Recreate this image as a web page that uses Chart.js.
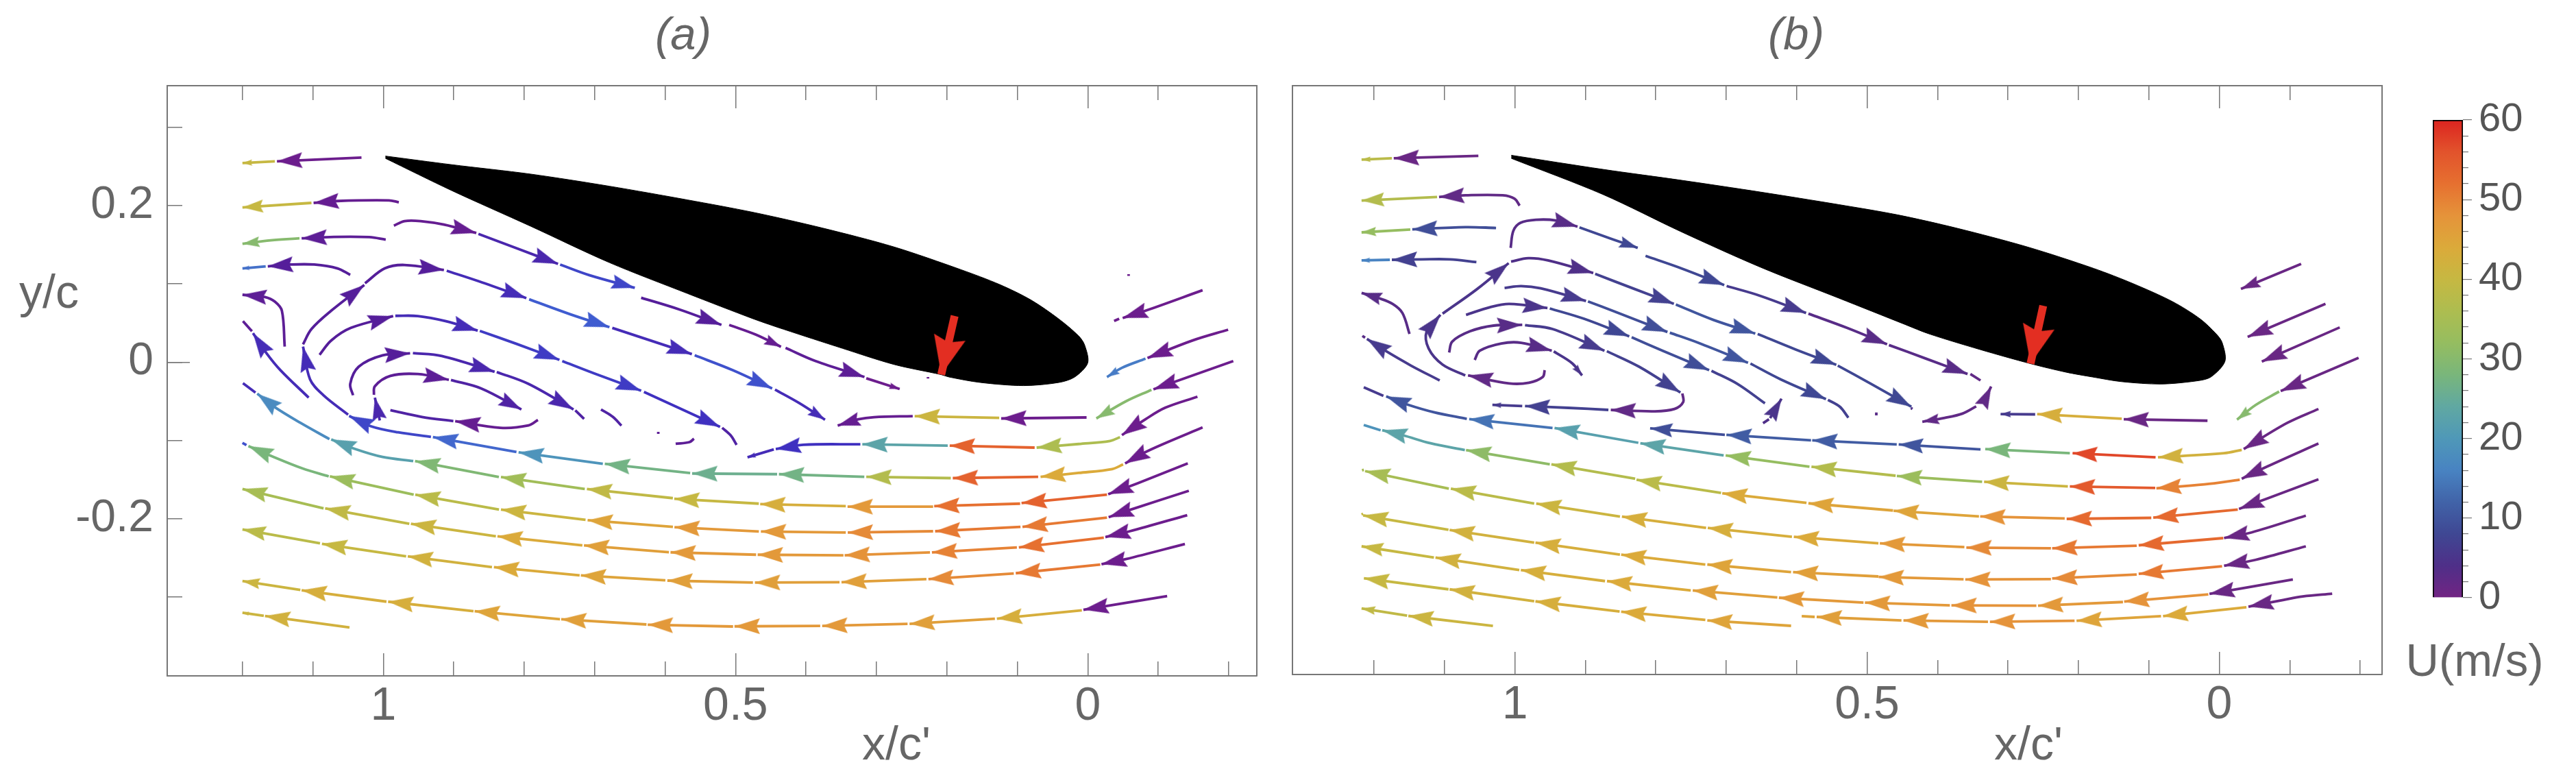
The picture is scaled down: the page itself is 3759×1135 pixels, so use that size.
<!DOCTYPE html>
<html>
<head>
<meta charset="utf-8">
<title>Streamlines</title>
<script src="https://cdn.jsdelivr.net/npm/chart.js@4"></script>
<style>
html, body { margin: 0; padding: 0; background: #fff; }
body { position: relative; width: 3759px; height: 1135px; overflow: hidden; }
canvas { position: absolute; top: 0; }
</style>
</head>
<body>
<canvas id="panelA" style="left:0;width:1860px;height:1135px"></canvas>
<canvas id="panelB" style="left:1860px;width:1640px;height:1135px"></canvas>
<canvas id="colorBar" style="left:3500px;width:259px;height:1135px"></canvas>
<script>
// axis ticks
const xMajorTicks = [1, 0.5, 0];
const xMinorTicksTop = [1.2, 1.1, 0.9, 0.8, 0.7, 0.6, 0.4, 0.3, 0.2, 0.1, -0.1];
const xMinorTicksBottom = [1.2, 1.1, 0.9, 0.8, 0.7, 0.6, 0.4, 0.3, 0.2, 0.1, -0.1, -0.2];
const yLabelTicks = [0.2, 0, -0.2];
const yMinorTicks = [0.3, 0.1, -0.1, -0.3];
const barMajorTicks = [0, 10, 20, 30, 40, 50, 60];
const barMinorTicks = [2, 4, 6, 8, 12, 14, 16, 18, 22, 24, 26, 28, 32, 34, 36, 38, 42, 44, 46, 48, 52, 54, 56, 58];

// colour legend, U(m/s)
const speedStops = [0, 4, 8, 12, 16, 20, 24, 28, 32, 36, 40, 44, 48, 52, 56, 60];
const speedColorsB = ['#722483', '#4f2f88', '#3f4793', '#4163a8', '#4883c2', '#4f98b8', '#60a8a2', '#79b67b', '#95bd60', '#adbd50', '#c6b842', '#dbaa3a', '#e5933a', '#e67030', '#e2532c', '#dc2420'];
const speedColorsA = ['#741c88', '#551e9a', '#3f30c0', '#3f5cd0', '#4a86c2', '#4f98b8', '#60a8a2', '#79b67b', '#95bd60', '#adbd50', '#c6b842', '#dbaa3a', '#e5933a', '#e67030', '#e2532c', '#dc2420'];

// airfoils, [x/c', y/c] round the outline
const airfoilA = [[0.997,0.263],[0.903,0.252],[0.791,0.24],[0.679,0.2245],[0.568,0.207],[0.474,0.191],[0.376,0.171],[0.275,0.147],[0.18,0.118],[0.125,0.099],[0.08,0.079],[0.041,0.055],[0.013,0.0335],[0.0045,0.022],[0,-0.001],[0.0185,-0.019],[0.041,-0.026],[0.091,-0.03],[0.1525,-0.026],[0.197,-0.019],[0.208,-0.016],[0.275,-0.003],[0.348,0.0175],[0.432,0.042],[0.474,0.055],[0.568,0.0875],[0.679,0.127],[0.791,0.1735],[0.903,0.219],[0.997,0.26]];
const airfoilB = [[1.005,0.264],[0.875,0.246],[0.763,0.232],[0.651,0.217],[0.54,0.201],[0.457,0.188],[0.373,0.171],[0.2725,0.147],[0.178,0.1195],[0.122,0.1],[0.066,0.077],[0.027,0.055],[0.0045,0.036],[-0.004,0.025],[-0.008,0.001],[0.012,-0.019],[0.032,-0.024],[0.083,-0.028],[0.1385,-0.025],[0.18,-0.019],[0.217,-0.013],[0.268,-0.002],[0.3395,0.016],[0.412,0.036],[0.446,0.048],[0.54,0.0816],[0.651,0.121],[0.763,0.166],[0.875,0.214],[1.005,0.26]];

// red markers, tail then tip
const redArrowA = [0.189,0.059, 0.208,-0.016];
const redArrowB = [0.25,0.072, 0.268,-0.002];

// panel (a) streamlines: each row is [U, x,y, x,y, ...] from tail to tip
const aTop1 = [[1, 1.031,0.261, 1.151,0.2563],[40, 1.154,0.2563, 1.2,0.254]];
const aTop2 = [[2, 0.978,0.204, 0.992,0.2064, 1.065,0.2056, 1.099,0.2032],[40, 1.102,0.2032, 1.2,0.1974]];
const aTop3 = [[3, 0.9966,0.1563, 1.02,0.1595, 1.07,0.1598, 1.116,0.158],[30, 1.119,0.158, 1.16,0.1554, 1.2,0.151]];
const aTop4 = [[4, 1.047,0.1114, 1.065,0.1196, 1.098,0.1245, 1.132,0.1245, 1.164,0.1222],[14, 1.167,0.1222, 1.2,0.1195]];
const aTop5 = [[3, 1.14,0.0198, 1.144,0.0656, 1.154,0.0773, 1.168,0.0831, 1.2,0.086]];
const aLeft6 = [[7, 1.106,-0.0453, 1.146,-0.0103, 1.166,0.0116, 1.185,0.037]];
const aRise = [
  [7, 1.05,-0.0671, 1.085,-0.0423, 1.104,-0.022, 1.114,0.0198],
  [4, 1.114,0.0227, 1.102,0.0422, 1.074,0.0656, 1.027,0.0985],
  [4, 1.026,0.1006, 0.998,0.1196, 0.97,0.124, 0.914,0.1175],
  [7, 0.91,0.1166, 0.864,0.103, 0.797,0.0816],
  [12, 0.793,0.0802, 0.735,0.0612, 0.679,0.0446],
  [7, 0.675,0.0437, 0.562,0.0102],
  [11, 0.558,0.0087, 0.504,-0.0103, 0.448,-0.0336],
  [7, 0.444,-0.0351, 0.409,-0.0526, 0.373,-0.0735]
];
const aFoilSide = [
  [2, 0.985,0.1741, 0.97,0.18, 0.947,0.18, 0.914,0.1755, 0.868,0.1648],
  [6, 0.865,0.1636, 0.808,0.1443, 0.752,0.1254],
  [10, 0.749,0.1245, 0.707,0.1108, 0.643,0.0948],
  [4, 0.634,0.0822, 0.579,0.067, 0.52,0.0475],
  [2, 0.509,0.0475, 0.471,0.035, 0.4355,0.0195],
  [3, 0.429,0.0181, 0.387,0.0015, 0.317,-0.019],
  [1, 0.3144,-0.0206, 0.267,-0.0343]
];
const aInner2 = [
  [4, 1.0905,0.0093, 1.074,0.0276, 1.046,0.0437, 0.986,0.0588],
  [7, 0.983,0.0591, 0.951,0.0588, 0.912,0.0524, 0.866,0.0402],
  [9, 0.863,0.0399, 0.811,0.0233, 0.75,0.0029],
  [9, 0.746,0.0014, 0.7,-0.0146, 0.634,-0.0365],
  [8, 0.63,-0.038, 0.577,-0.0598, 0.522,-0.0826]
];
const aInner3 = [
  [4, 1.043,-0.0423, 1.047,-0.0278, 1.035,-0.0059, 1.001,0.0087, 0.962,0.0113],
  [6, 0.958,0.0116, 0.917,0.0078, 0.842,-0.0123],
  [6, 0.839,-0.0126, 0.794,-0.0278, 0.73,-0.0604]
];
const aInner4 = [
  [3, 1.0134,-0.0418, 1.012,-0.0307, 0.99,-0.0176, 0.951,-0.0152, 0.907,-0.0225],
  [5, 0.904,-0.0228, 0.861,-0.0336, 0.804,-0.0604]
];
const aInner5 = [[2, 0.7805,-0.0738, 0.794,-0.0808, 0.834,-0.0838, 0.898,-0.0753]];
const aOuter = [
  [17, 1.0765,-0.0983, 1.118,-0.0773, 1.155,-0.0569, 1.179,-0.0403],
  [22, 0.9575,-0.1263, 1.001,-0.1211, 1.04,-0.1109, 1.074,-0.0986],
  [29, 0.836,-0.1467, 0.955,-0.1263],
  [34, 0.714,-0.1619, 0.833,-0.1467],
  [39, 0.589,-0.1736, 0.711,-0.1619],
  [40, 0.467,-0.1806, 0.587,-0.1744],
  [43, 0.3435,-0.1838, 0.465,-0.1812],
  [47, 0.2195,-0.1845, 0.341,-0.1845],
  [52, 0.096,-0.1806, 0.218,-0.1838],
  [54, -0.0273,-0.1691, 0.094,-0.1799],
  [1, -0.142,-0.1293, -0.071,-0.1545, -0.029,-0.1685]
];
const aBlue = [
  [10, 0.9324,-0.0954, 0.979,-0.0896, 1.018,-0.0817, 1.0486,-0.0686],
  [13, 0.811,-0.1147, 0.9296,-0.0957],
  [19, 0.6884,-0.1298, 0.808,-0.1152],
  [27, 0.5644,-0.1415, 0.6856,-0.1298],
  [26, 0.441,-0.143, 0.5616,-0.1421],
  [27, 0.3172,-0.1463, 0.4384,-0.143],
  [37, 0.1944,-0.148, 0.3144,-0.1463],
  [54, 0.0704,-0.1463, 0.1916,-0.148],
  [44, -0.0502,-0.1306, -0.0346,-0.1365, 0.013,-0.1414, 0.067,-0.1463],
  [1, -0.163,-0.0833, -0.1044,-0.1055, -0.0792,-0.116, -0.053,-0.1293]
];
const aMid = [
  [7, 0.4457,-0.1114, 0.483,-0.1215],
  [8, 0.3228,-0.1048, 0.4038,-0.1055, 0.4429,-0.111],
  [23, 0.1988,-0.1065, 0.32,-0.1048],
  [54, 0.0754,-0.1091, 0.196,-0.1065],
  [36, -0.0457,-0.0957, -0.0316,-0.1006, 0.013,-0.1045, 0.0726,-0.1091],
  [1, -0.1557,-0.0441, -0.11,-0.0582, -0.082,-0.0729, -0.0485,-0.0931]
];
const aUnderFoil = [
  [2, 0.2485,-0.0689, 0.3033,-0.0702, 0.3256,-0.0729, 0.355,-0.081],
  [41, 0.1257,-0.0712, 0.2457,-0.0689],
  [1, 0.0017,-0.0706, 0.1229,-0.0719],
  [30, -0.0904,-0.0353, -0.0541,-0.05, -0.0122,-0.0719],
  [1, -0.2066,0.0014, -0.0932,-0.0347]
];
const aNose1 = [[1, -0.163,0.0918, -0.082,0.0656, -0.0496,0.0563]];
const aNose2 = [[1, -0.1993,0.0414, -0.149,0.0277, -0.0848,0.0052],[15, -0.082,0.0044, -0.0485,-0.0073, -0.0273,-0.019]];
const aLow1 = [
  [28, 1.0775,-0.1458, 1.115,-0.1356, 1.1596,-0.1196, 1.1915,-0.1071],
  [33, 0.9569,-0.1692, 1.0759,-0.1458],
  [38, 0.8358,-0.1881, 0.9547,-0.1692],
  [41, 0.7129,-0.2012, 0.833,-0.1881],
  [45, 0.5889,-0.2103, 0.71,-0.2018],
  [47, 0.4669,-0.2161, 0.5867,-0.2106],
  [47, 0.3435,-0.2175, 0.464,-0.2161],
  [49, 0.2195,-0.2158, 0.3407,-0.2175],
  [51, 0.0955,-0.2103, 0.2167,-0.2158],
  [51, -0.0273,-0.1985, 0.0927,-0.2103],
  [1, -0.1435,-0.1642, -0.065,-0.1871, -0.0296,-0.1979]
];
const aLow2 = [
  [35, 1.0848,-0.1867, 1.2,-0.1619],
  [39, 0.9631,-0.2062, 1.0826,-0.1867],
  [41, 0.8402,-0.2222, 0.9608,-0.2062],
  [44, 0.7174,-0.2339, 0.838,-0.2222],
  [46, 0.5946,-0.2427, 0.7152,-0.2339],
  [47, 0.4708,-0.2458, 0.5923,-0.2427],
  [47, 0.3468,-0.2465, 0.4686,-0.2458],
  [48, 0.224,-0.2429, 0.3451,-0.2465],
  [50, 0.1006,-0.2364, 0.2212,-0.2429],
  [52, -0.0228,-0.224, 0.0978,-0.2364],
  [1, -0.1412,-0.1953, -0.0597,-0.2158, -0.025,-0.2233]
];
const aLow3 = [
  [38, 1.0899,-0.2313, 1.2,-0.2135],
  [40, 0.9676,-0.2479, 1.0871,-0.2319],
  [42, 0.8458,-0.2616, 0.9653,-0.2479],
  [44, 0.7213,-0.2721, 0.843,-0.2616],
  [45, 0.5996,-0.2785, 0.7196,-0.2721],
  [46, 0.4753,-0.2814, 0.5968,-0.2788],
  [46, 0.3524,-0.2808, 0.4725,-0.2814],
  [46, 0.229,-0.2769, 0.3496,-0.2808],
  [49, 0.105,-0.2697, 0.2262,-0.2769],
  [51, -0.0178,-0.2583, 0.1022,-0.2694],
  [1, -0.1379,-0.2321, -0.0541,-0.2514, -0.0195,-0.2579]
];
const aLow4 = [
  [41, 1.1178,-0.2908, 1.2,-0.2794],
  [43, 0.9955,-0.3057, 1.116,-0.2911],
  [43, 0.872,-0.3179, 0.9932,-0.3057],
  [45, 0.7492,-0.3281, 0.8704,-0.3179],
  [46, 0.6264,-0.3348, 0.7475,-0.3281],
  [47, 0.5035,-0.3374, 0.6247,-0.3351],
  [47, 0.3798,-0.3366, 0.5015,-0.3372],
  [47, 0.2558,-0.334, 0.377,-0.3366],
  [46, 0.1318,-0.3274, 0.253,-0.334],
  [43, 0.0084,-0.3167, 0.129,-0.3274],
  [1, -0.1127,-0.2987, 0.0062,-0.316]
];
const aLow5 = [[41, 1.1697,-0.3237, 1.2,-0.3199],[42, 1.048,-0.3386, 1.168,-0.324]];
const panelARows = [aTop1, aTop2, aTop3, aTop4, aTop5, aLeft6, aRise, aFoilSide, aInner2, aInner3, aInner4, aInner5, aOuter, aBlue, aMid, aUnderFoil, aNose1, aNose2, aLow1, aLow2, aLow3, aLow4, aLow5];
// pieces with no arrow head
const panelAPieces = [
  [3, 1.1865,0.0393, 1.1993,0.0524],
  [7, 1.1815,-0.0389, 1.1993,-0.0269],
  [11, 1.1943,-0.1059, 1.2,-0.103],
  [5, 0.519,-0.0838, 0.507,-0.0934, 0.4985,-0.1056],
  [5, 0.7275,-0.0616, 0.715,-0.0724],
  [5, 0.9006,-0.0753, 0.945,-0.07, 0.99,-0.0613],
  [5, 0.691,-0.0604, 0.674,-0.07, 0.662,-0.0811],
  [3, 0.6097,-0.089, 0.6097,-0.0916],
  [3, 0.559,-0.0978, 0.5655,-0.1021, 0.585,-0.1042],
  [1, -0.0446,0.0554, -0.0374,0.0525],
  [1, -0.058,0.1123, -0.058,0.11],
  [1, 0.2268,-0.019, 0.2268,-0.021]
];
// pieces that are only an arrow head
const panelAStubs = [[6, 1.005,-0.0744, 1.012,-0.0453]];

// panel (b) streamlines
const bTop1 = [[1, 1.0518,0.2633, 1.1719,0.2601],[38, 1.1746,0.2601, 1.2176,0.2584]];
const bTop2 = [[2, 0.9932,0.1997, 1.0004,0.2085, 1.0172,0.2129, 1.0702,0.2129, 1.1076,0.2108],[37, 1.1104,0.2108, 1.2176,0.2062]];
const bTop3 = [[9, 1.0267,0.1712, 1.0702,0.1723, 1.1456,0.1694],[32, 1.1484,0.1691, 1.2176,0.1656]];
const bTop4 = [[7, 1.0546,0.1277, 1.0925,0.1312, 1.1316,0.1312, 1.1746,0.1306],[16, 1.1774,0.1306, 1.2176,0.1298]];
const bTop5 = [[3, 1.1495,0.0359, 1.1596,0.0627, 1.1735,0.0743, 1.1931,0.0816, 1.2176,0.0883]];
const bLeft6 = [[6, 1.1067,-0.0234, 1.1475,-0.0044, 1.1866,0.016, 1.21,0.0297]];
const bRise = [
  [5, 1.0704,-0.017, 1.1028,-0.003, 1.1224,0.0174, 1.1252,0.0393, 1.1056,0.0603],
  [5, 1.1026,0.0618, 1.0535,0.0933, 1.0088,0.1263],
  [4, 1.0054,0.1283, 0.9809,0.1327, 0.953,0.1298, 0.8887,0.1137],
  [7, 0.886,0.1126, 0.83,0.0933, 0.7743,0.0744],
  [10, 0.7715,0.0735, 0.7184,0.0539, 0.6587,0.0364],
  [8, 0.6553,0.0359, 0.6012,0.016, 0.5437,-0.0035],
  [8, 0.5416,-0.0044, 0.4942,-0.0278, 0.4372,-0.0569]
];
const bFoilSide = [
  [3, 1.006,0.1458, 1.0021,0.1677, 0.992,0.1779, 0.9697,0.1817, 0.9418,0.1808, 0.911,0.1729],
  [8, 0.9083,0.172, 0.8636,0.1575, 0.8256,0.1458],
  [8, 0.8145,0.1356, 0.7631,0.1195, 0.7028,0.0983],
  [6, 0.6994,0.0971, 0.6514,0.0845, 0.5866,0.0627],
  [3, 0.5833,0.0618, 0.5286,0.0437, 0.4716,0.0227],
  [3, 0.469,0.0218, 0.416,0.0043, 0.3574,-0.0152]
];
const bInner2 = [
  [6, 1.0146,0.0947, 0.9911,0.097, 0.9632,0.0941, 0.899,0.078],
  [9, 0.8962,0.0775, 0.8571,0.0641, 0.7834,0.0384],
  [10, 0.78,0.0375, 0.7398,0.0247, 0.669,-0.0009],
  [8, 0.6656,-0.0018, 0.6226,-0.022, 0.5584,-0.0473]
];
const bInner3 = [
  [5, 1.0693,0.0603, 1.0358,0.0699, 1.0079,0.0743, 0.9537,0.069],
  [8, 0.9504,0.0685, 0.9018,0.0553, 0.8376,0.0329],
  [9, 0.8342,0.0317, 0.7901,0.0145, 0.7242,-0.0103]
];
const bInner4 = [
  [3, 1.0933,0.0122, 1.0889,0.0262, 1.0637,0.0393, 1.0302,0.0466, 0.9895,0.0475],
  [6, 0.9856,0.0472, 0.9465,0.0422, 0.8728,0.0145],
  [7, 0.8694,0.0139, 0.8236,-0.0059, 0.765,-0.0388],
  [2, 0.7622,-0.04, 0.7611,-0.0511, 0.7734,-0.0598, 0.8013,-0.0628, 0.8638,-0.061],
  [7, 0.8672,-0.061, 0.9241,-0.0584, 0.9856,-0.0561],
  [6, 0.9895,-0.0561, 1.0319,-0.0546]
];
const bInner5 = [
  [3, 1.057,0.0028, 1.0498,0.0145, 1.0191,0.0238, 0.9911,0.0247, 0.9476,0.0145],
  [5, 0.9448,0.0136, 0.9186,-0.0015, 0.9046,-0.017]
];
const bInner6 = [[2, 0.9576,-0.0103, 0.9604,-0.019, 0.98,-0.0263, 1.0079,-0.0272, 1.0665,-0.017]];
const bBlue = [
  [10, 1.0682,-0.0724, 1.114,-0.0642, 1.1531,-0.054, 1.1827,-0.0438],
  [14, 0.9465,-0.084, 1.0648,-0.0727],
  [22, 0.8247,-0.103, 0.9437,-0.084],
  [23, 0.7036,-0.119, 0.8219,-0.1036],
  [32, 0.5818,-0.1336, 0.7008,-0.119],
  [37, 0.4595,-0.145, 0.579,-0.1336],
  [33, 0.3367,-0.1528, 0.4578,-0.1453],
  [41, 0.215,-0.1587, 0.3339,-0.1528],
  [55, 0.091,-0.1607, 0.2122,-0.1587],
  [50, -0.029,-0.1502, 0.0212,-0.1561, 0.0894,-0.161],
  [1, -0.1407,-0.1039, -0.0681,-0.1332, -0.0318,-0.1489]
];
const bTeal = [
  [23, 1.071,-0.1123, 1.1196,-0.1036, 1.1587,-0.0934, 1.1883,-0.087],
  [31, 0.9504,-0.1304, 1.0693,-0.1123],
  [37, 0.8292,-0.1488, 0.9482,-0.1304],
  [38, 0.7073,-0.1669, 0.8273,-0.1502],
  [44, 0.586,-0.1796, 0.7056,-0.1675],
  [45, 0.4632,-0.1894, 0.5833,-0.1802],
  [45, 0.3412,-0.1969, 0.4624,-0.1897],
  [48, 0.2195,-0.1995, 0.3395,-0.1969],
  [53, 0.0966,-0.1988, 0.2167,-0.2001],
  [53, -0.0262,-0.1881, 0.0938,-0.1985],
  [1, -0.1407,-0.1496, -0.0681,-0.174, -0.0279,-0.1874]
];
const bLow3 = [
  [35, 1.0937,-0.1616, 1.2126,-0.1391],
  [38, 0.9725,-0.1806, 1.0909,-0.1616],
  [41, 0.8508,-0.1972, 0.9697,-0.1806],
  [43, 0.7285,-0.2116, 0.848,-0.1972],
  [43, 0.6067,-0.223, 0.7262,-0.2116],
  [44, 0.4839,-0.2312, 0.604,-0.223],
  [47, 0.3619,-0.2361, 0.4819,-0.2312],
  [49, 0.239,-0.2377, 0.3591,-0.2367],
  [51, 0.1173,-0.2344, 0.2373,-0.2377],
  [53, -0.0056,-0.2246, 0.1145,-0.2338],
  [1, -0.1228,-0.1959, -0.0458,-0.2174, -0.0067,-0.2246]
];
const bLow4 = [
  [40, 1.0942,-0.2139, 1.2154,-0.1956],
  [42, 0.9725,-0.2305, 1.0926,-0.2142],
  [43, 0.8508,-0.2458, 0.9708,-0.2305],
  [44, 0.7296,-0.2583, 0.8491,-0.2458],
  [45, 0.6079,-0.268, 0.7268,-0.2583],
  [46, 0.4839,-0.2736, 0.6051,-0.268],
  [47, 0.363,-0.2772, 0.4836,-0.2742],
  [48, 0.239,-0.2769, 0.3607,-0.2775],
  [49, 0.1173,-0.271, 0.2373,-0.2762],
  [51, -0.0039,-0.2605, 0.1145,-0.2703],
  [1, -0.1228,-0.2351, -0.0514,-0.2524, -0.0067,-0.2599]
];
const bLow5 = [
  [40, 1.1149,-0.2494, 1.2176,-0.2351],
  [42, 0.9937,-0.2654, 1.1127,-0.2494],
  [43, 0.872,-0.2795, 0.9915,-0.2654],
  [44, 0.7503,-0.2915, 0.8692,-0.2795],
  [46, 0.6274,-0.3004, 0.7475,-0.2915],
  [47, 0.5051,-0.3069, 0.6252,-0.3007],
  [47, 0.3825,-0.3105, 0.5031,-0.3069],
  [48, 0.2597,-0.3108, 0.3803,-0.3105],
  [47, 0.1368,-0.3062, 0.2574,-0.3108],
  [48, 0.0156,-0.2964, 0.1351,-0.3056],
  [1, -0.1044,-0.2775, -0.0346,-0.2883, 0.014,-0.2958]
];
const bLow6 = [
  [40, 1.0942,-0.29, 1.2143,-0.2759],
  [42, 0.9725,-0.3053, 1.0926,-0.29],
  [43, 0.8513,-0.3183, 0.9708,-0.3053],
  [44, 0.7296,-0.3291, 0.8491,-0.3186],
  [45, 0.6079,-0.3366, 0.7268,-0.3297]
];
const bLow6b = [
  [46, 0.4512,-0.3297, 0.5716,-0.3252],
  [47, 0.3284,-0.3314, 0.4484,-0.3297],
  [48, 0.2055,-0.3301, 0.3256,-0.3314],
  [45, 0.0827,-0.3242, 0.2027,-0.3301],
  [44, -0.0385,-0.3128, 0.0799,-0.3242],
  [1, -0.1602,-0.2955, -0.1184,-0.299, -0.0904,-0.3036, -0.0413,-0.3121]
];
const bLow7 = [[39, 1.1529,-0.3235, 1.2176,-0.3144],[41, 1.0311,-0.3366, 1.1512,-0.3239]];
const bUnderFoil = [
  [6, 0.2614,-0.0667, 0.3105,-0.0663],
  [43, 0.1385,-0.0722, 0.2586,-0.0663],
  [1, 0.0168,-0.0748, 0.1357,-0.0729],
  [30, -0.0849,-0.0376, -0.0513,-0.0549, -0.0251,-0.0735],
  [1, -0.1977,0.0055, -0.0871,-0.037]
];
const bNose = [[1, -0.1161,0.1254, -0.0307,0.0933],[1, -0.1507,0.0743, -0.0402,0.0321],[1, -0.1709,0.0443, -0.0603,0.0006]];
const bMid = [
  [1, -0.1407,-0.0598, -0.096,-0.0778, -0.0346,-0.111],
  [42, -0.0318,-0.112, -0.0067,-0.1163, 0.0871,-0.1215],
  [57, 0.0905,-0.1215, 0.2083,-0.1163],
  [28, 0.2122,-0.1163, 0.3323,-0.111],
  [10, 0.339,-0.1115, 0.4551,-0.105],
  [11, 0.4579,-0.105, 0.5779,-0.0998],
  [11, 0.5796,-0.0998, 0.6997,-0.0928],
  [9, 0.7019,-0.0928, 0.808,-0.0846]
];
const bLoop = [[2, 0.3451,-0.0565, 0.3646,-0.0657, 0.3898,-0.0712, 0.4216,-0.0761]];
const panelBRows = [bTop1, bTop2, bTop3, bTop4, bTop5, bLeft6, bRise, bFoilSide, bInner2, bInner3, bInner4, bInner5, bInner6, bBlue, bTeal, bLow3, bLow4, bLow5, bLow6, bLow6b, bLow7, bUnderFoil, bNose, bMid, bLoop];
const panelBPieces = [
  [3, 1.2126,0.0312, 1.2165,0.0335],
  [6, 1.1866,-0.043, 1.2145,-0.0321],
  [19, 1.1905,-0.087, 1.2145,-0.0802],
  [35, 1.2143,-0.1375, 1.217,-0.1381],
  [40, 1.2154,-0.1935, 1.2176,-0.1945],
  [7, 0.5556,-0.0482, 0.5388,-0.0569, 0.5266,-0.0709],
  [7, 0.7209,-0.0111, 0.684,-0.0278, 0.645,-0.0526],
  [4, 0.6477,-0.0779, 0.6393,-0.073],
  [2, 0.3534,-0.0152, 0.339,-0.0234],
  [4, 0.4356,-0.0598, 0.4378,-0.0585],
  [3, 0.4869,-0.0642, 0.4869,-0.068],
  [45, 0.5744,-0.3252, 0.5928,-0.3242]
];
const panelBStubs = [[5, 0.6377,-0.0715, 0.6215,-0.0467],[2, 0.334,-0.05, 0.3239,-0.0311]];

const axisColor = '#777777';
const textColor = '#666666';
const fontFamily = '"Liberation Sans", Arial, sans-serif';

function speedColor(u, colors) {
  let i = 0;
  while (i < speedStops.length - 2 && u > speedStops[i + 1]) i++;
  const t = (u - speedStops[i]) / (speedStops[i + 1] - speedStops[i]);
  const a = parseInt(colors[i].slice(1), 16);
  const b = parseInt(colors[i + 1].slice(1), 16);
  const mix = (shift) => Math.round(((a >> shift) & 255) * (1 - t) + ((b >> shift) & 255) * t);
  return `rgb(${mix(16)},${mix(8)},${mix(0)})`;
}

// arrow head image, the tip sits in the middle of the canvas so that it lands on the data point
const headCache = {};
function headImage(color, len, wid) {
  const key = color + len.toFixed(1) + wid.toFixed(1);
  if (headCache[key]) return headCache[key];
  const c = document.createElement('canvas');
  c.width = Math.ceil(len * 2 + 2);
  c.height = Math.ceil(wid + 2);
  const g = c.getContext('2d');
  g.translate(c.width / 2, c.height / 2);
  g.fillStyle = color;
  g.beginPath();
  g.moveTo(0, 0);
  g.lineTo(-len, -wid / 2);
  g.lineTo(-len * 0.86, 0);
  g.lineTo(-len, wid / 2);
  g.closePath();
  g.fill();
  headCache[key] = c;
  return c;
}

const isTip = (ctx) => ctx.dataIndex === ctx.dataset.data.length - 1;

function pixels(ctx) {
  const { x, y } = ctx.chart.scales;
  return ctx.dataset.data.map((p) => [x.getPixelForValue(p.x), y.getPixelForValue(p.y)]);
}

function arrowPointStyle(ctx) {
  if (!isTip(ctx)) return 'circle';
  const ds = ctx.dataset;
  if (ds.headLength) return headImage(ds.borderColor, ds.headLength, ds.headWidth);
  const pts = pixels(ctx);
  let length = 0;
  for (let i = 1; i < pts.length; i++) length += Math.hypot(pts[i][0] - pts[i - 1][0], pts[i][1] - pts[i - 1][1]);
  const len = Math.max(6, Math.min(37, length * 0.3));
  return headImage(ds.borderColor, len, len * 0.62);
}

function arrowRotation(ctx) {
  if (!isTip(ctx)) return 0;
  const pts = pixels(ctx);
  const a = pts[pts.length - 2];
  const b = pts[pts.length - 1];
  return Math.atan2(b[1] - a[1], b[0] - a[0]) * 180 / Math.PI;
}

function lineDataset(u, coords, colors, extra) {
  const data = [];
  for (let i = 0; i < coords.length; i += 2) data.push({ x: coords[i], y: coords[i + 1] });
  return Object.assign({
    data,
    borderColor: speedColor(u, colors),
    backgroundColor: speedColor(u, colors),
    borderWidth: 3.8,
    borderCapStyle: 'butt',
    showLine: true,
    tension: data.length > 2 ? 0.35 : 0,
    pointRadius: (ctx) => (isTip(ctx) ? 1 : 0),
    pointStyle: arrowPointStyle,
    pointRotation: arrowRotation,
    order: 2
  }, extra);
}

function buildDatasets(rows, pieces, stubs, airfoil, red, colors) {
  const sets = [];
  rows.forEach((stream) => stream.forEach((r) => sets.push(lineDataset(r[0], r.slice(1), colors, {}))));
  pieces.forEach((r) => sets.push(lineDataset(r[0], r.slice(1), colors, { pointRadius: 0 })));
  stubs.forEach((r) => sets.push(lineDataset(r[0], r.slice(1), colors, { headLength: 33, headWidth: 21 })));
  sets.push({
    data: airfoil.map((p) => ({ x: p[0], y: p[1] })),
    showLine: true,
    fill: 'shape',
    borderColor: '#000',
    backgroundColor: '#000',
    borderWidth: 1,
    pointRadius: 0,
    tension: 0.3,
    order: 5
  });
  sets.push(Object.assign(lineDataset(0, red, colors, { headLength: 56, headWidth: 47, borderWidth: 11.5, order: 0 }), { borderColor: '#e32e22', backgroundColor: '#e32e22' }));
  return sets;
}

// one invisible-label axis just for a set of inward tick marks
function tickAxis(axis, position, domain, ticks, tickLen, showBorder) {
  return {
    axis,
    type: 'linear',
    position,
    weight: -1,
    min: domain[0],
    max: domain[1],
    reverse: axis === 'x',
    display: true,
    afterBuildTicks: (s) => { s.ticks = ticks.map((value) => ({ value })); },
    afterFit: (s) => { if (axis === 'x') s.height = 0; else s.width = 0; },
    grid: { drawOnChartArea: false, tickLength: -tickLen, tickWidth: 1.5, tickColor: axisColor, lineWidth: 1.5 },
    border: { display: !!showBorder, color: axisColor, width: 2 },
    ticks: { display: false, autoSkip: false }
  };
}

function textPlugin(items) {
  return {
    id: 'panelText',
    afterDraw(chart) {
      const g = chart.ctx;
      g.save();
      items.forEach((t) => {
        g.font = t.font;
        g.fillStyle = t.color || textColor;
        g.textAlign = t.align || 'center';
        g.textBaseline = 'alphabetic';
        g.fillText(t.text, t.x, t.y);
      });
      g.restore();
    }
  };
}

function panelChart(id, opts) {
  const scales = {
    x: {
      type: 'linear',
      position: 'bottom',
      min: opts.xDomain[0],
      max: opts.xDomain[1],
      reverse: true,
      afterBuildTicks: (s) => { s.ticks = xMajorTicks.map((value) => ({ value })); },
      afterFit: (s) => { s.height = opts.bottomSpace; },
      grid: { drawOnChartArea: false, tickLength: -33, tickWidth: 1.5, tickColor: axisColor, lineWidth: 1.5 },
      border: { color: axisColor, width: 2 },
      ticks: {
        autoSkip: false,
        maxRotation: 0,
        padding: 37,
        color: textColor,
        font: { family: fontFamily, size: 68 },
        callback: (v) => String(v)
      }
    },
    xBottomMinor: tickAxis('x', 'bottom', opts.xDomain, xMinorTicksBottom, 21),
    xTopMajor: tickAxis('x', 'top', opts.xDomain, xMajorTicks, 33),
    xTopMinor: tickAxis('x', 'top', opts.xDomain, xMinorTicksTop, 21, true),
    y: {
      type: 'linear',
      position: 'left',
      min: opts.yDomain[0],
      max: opts.yDomain[1],
      afterBuildTicks: (s) => { s.ticks = (opts.yTicks ? yLabelTicks : []).map((value) => ({ value })); },
      afterFit: (s) => { s.width = opts.leftSpace; },
      grid: { drawOnChartArea: false, tickLength: -22, tickWidth: 1.5, tickColor: axisColor, lineWidth: 1.5 },
      border: { color: axisColor, width: 2 },
      ticks: {
        autoSkip: false,
        display: opts.yTicks,
        padding: 42,
        color: textColor,
        font: { family: fontFamily, size: 66 },
        callback: (v) => String(v)
      }
    },
    yRight: tickAxis('y', 'right', opts.yDomain, [], 0, true)
  };
  if (opts.yTicks) {
    scales.yMinor = tickAxis('y', 'left', opts.yDomain, yMinorTicks, 22);
    scales.yZero = tickAxis('y', 'left', opts.yDomain, [0], 33);
  }
  return new Chart(document.getElementById(id), {
    type: 'scatter',
    data: { datasets: opts.datasets },
    plugins: [textPlugin(opts.texts)],
    options: {
      responsive: false,
      animation: false,
      devicePixelRatio: 1,
      events: [],
      layout: { autoPadding: false, padding: opts.padding },
      plugins: { legend: { display: false }, tooltip: { enabled: false }, title: { display: false } },
      scales
    }
  });
}

function sizeCanvas(id, w, h) {
  const c = document.getElementById(id);
  c.width = w;
  c.height = h;
}
sizeCanvas('panelA', 1860, 1135);
sizeCanvas('panelB', 1640, 1135);
sizeCanvas('colorBar', 259, 1135);

panelChart('panelA', {
  xDomain: [-0.24, 1.3068],
  yDomain: [-0.4004, 0.3528],
  yTicks: true,
  leftSpace: 244,
  bottomSpace: 149,
  padding: { left: 0, right: 26, top: 125, bottom: 0 },
  datasets: buildDatasets(panelARows, panelAPieces, panelAStubs, airfoilA, redArrowA, speedColorsA),
  texts: [
    { text: '(a)', x: 997, y: 72, font: `italic 67px ${fontFamily}` },
    { text: "x/c'", x: 1308, y: 1108, font: `68px ${fontFamily}` },
    { text: 'y/c', x: 28, y: 449, align: 'left', font: `68px ${fontFamily}` }
  ]
});

panelChart('panelB', {
  xDomain: [-0.231, 1.3157],
  yDomain: [-0.3987, 0.3528],
  yTicks: false,
  leftSpace: 0,
  bottomSpace: 151,
  padding: { left: 26, right: 24, top: 125, bottom: 0 },
  datasets: buildDatasets(panelBRows, panelBPieces, panelBStubs, airfoilB, redArrowB, speedColorsB),
  texts: [
    { text: '(b)', x: 761, y: 72, font: `italic 67px ${fontFamily}` },
    { text: "x/c'", x: 1100, y: 1108, font: `68px ${fontFamily}` }
  ]
});

new Chart(document.getElementById('colorBar'), {
  type: 'bar',
  data: {
    labels: ['U'],
    datasets: [{
      data: [60],
      barPercentage: 1,
      categoryPercentage: 1,
      borderColor: '#000',
      borderWidth: 2,
      backgroundColor: (ctx) => {
        const { chart } = ctx;
        if (!chart.chartArea) return speedColorsB[0];
        const y = chart.scales.y;
        const g = chart.ctx.createLinearGradient(0, y.getPixelForValue(0), 0, y.getPixelForValue(60));
        speedStops.forEach((u, i) => g.addColorStop(u / 60, speedColorsB[i]));
        return g;
      }
    }]
  },
  plugins: [textPlugin([{ text: 'U(m/s)', x: 111, y: 986, font: `67px ${fontFamily}` }])],
  options: {
    responsive: false,
    animation: false,
    devicePixelRatio: 1,
    events: [],
    layout: { autoPadding: false, padding: { left: 50, right: 0, top: 175, bottom: 263 } },
    plugins: { legend: { display: false }, tooltip: { enabled: false } },
    scales: {
      x: { display: false },
      y: {
        position: 'right',
        min: 0,
        max: 60,
        afterBuildTicks: (s) => { s.ticks = barMajorTicks.map((value) => ({ value })); },
        afterFit: (s) => { s.width = 165; },
        grid: { drawOnChartArea: false, tickLength: 13, tickWidth: 1.2, tickColor: axisColor, lineWidth: 1.2 },
        border: { display: false },
        ticks: { padding: 10, color: '#555555', font: { family: fontFamily, size: 58 }, autoSkip: false, callback: (v) => String(v) }
      },
      yMinor: {
        axis: 'y',
        position: 'right',
        weight: -1,
        min: 0,
        max: 60,
        afterBuildTicks: (s) => { s.ticks = barMinorTicks.map((value) => ({ value })); },
        afterFit: (s) => { s.width = 0; },
        grid: { drawOnChartArea: false, tickLength: 8, tickWidth: 1.2, tickColor: axisColor, lineWidth: 1.2 },
        border: { display: false },
        ticks: { display: false, autoSkip: false }
      }
    }
  }
});
</script>
</body>
</html>
